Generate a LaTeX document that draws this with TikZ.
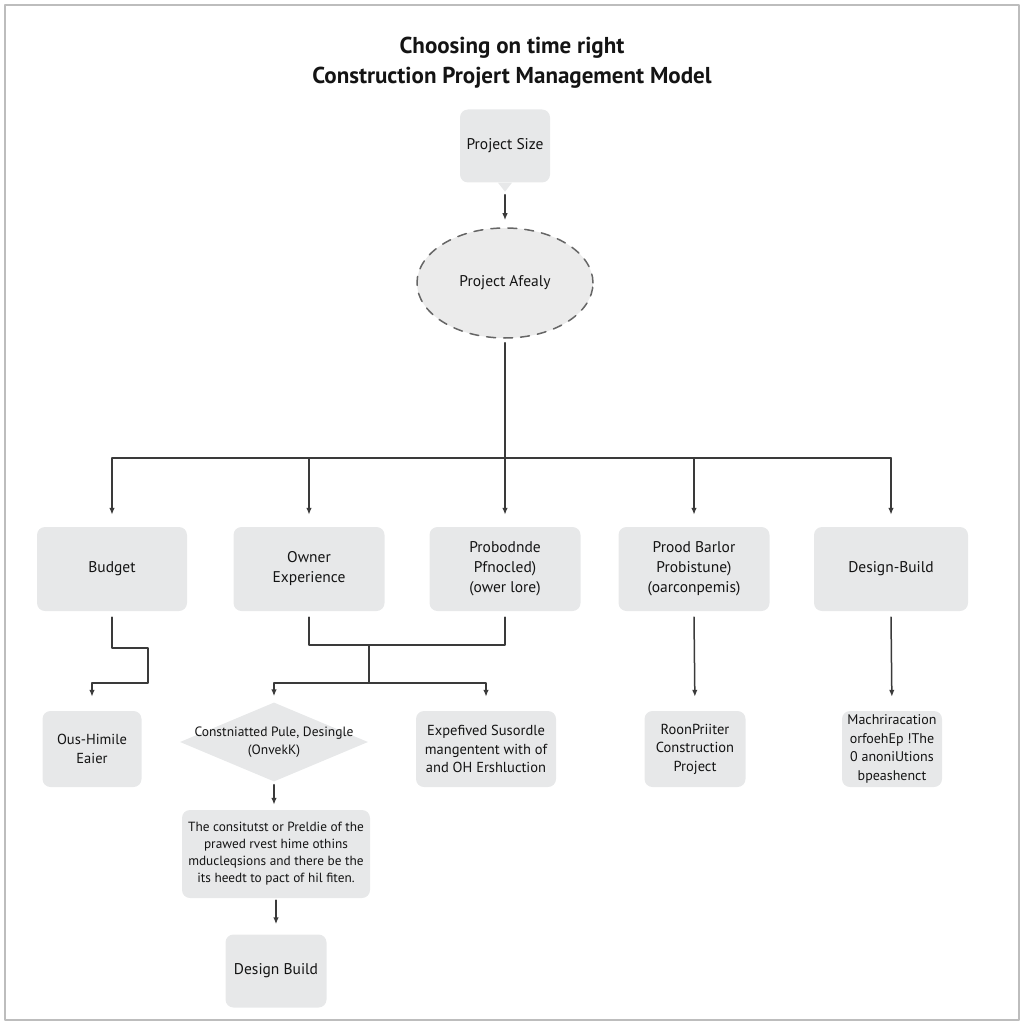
\documentclass[tikz,border=0pt]{standalone}
\usepackage{fontspec}
\setmainfont{PT Sans}
\usetikzlibrary{arrows.meta,shapes.geometric}
\definecolor{BoxGray}{HTML}{E7E8E9}
\definecolor{OvalGray}{HTML}{EBEBEB}
\definecolor{LineGray}{HTML}{3A3A3A}
\definecolor{TextDark}{HTML}{141414}
\definecolor{FrameGray}{HTML}{BDBDBD}

\begin{document}
\begin{tikzpicture}[x=1pt,y=-1pt,line cap=round,line join=round,
  box/.style={rectangle,rounded corners=8pt,fill=BoxGray,align=center,text=TextDark,inner sep=0pt,
    font=\fontsize{15.5}{20}\selectfont},
  small/.style={font=\fontsize{14.5}{18.5}\selectfont},
  tiny/.style={font=\fontsize{13.3}{17}\selectfont},
  ln/.style={draw=LineGray,line width=1.5pt},
  arr/.style={ln,-{Latex[length=7pt,width=5.5pt]}}]
  \useasboundingbox (0,0) rectangle (1024,1024);
  \draw[FrameGray,line width=1.8pt] (5,5) rectangle (1019,1020);
  % title
  \node[text=TextDark,font=\fontsize{23}{26}\bfseries\selectfont] (title1) at (512,48) {Choosing on time right};
  \node[text=TextDark,font=\fontsize{23}{26}\bfseries\selectfont] (title2) at (512,78) {Construction Projert Management Model};
  % top
  \node[box,minimum width=90,minimum height=73] (size) at (505,146) {Project Size};
  \fill[BoxGray] ([xshift=-7pt]size.south) -- ([yshift=-9pt]size.south) -- ([xshift=7pt]size.south) -- cycle;
  \node[ellipse,fill=OvalGray,draw=gray!80!black,line width=1.5pt,dash pattern=on 9pt off 8pt,
    minimum width=176,minimum height=110,text=TextDark,font=\fontsize{15.5}{20}\selectfont] (afealy) at (505,283) {Project Afealy};
  \draw[arr,shorten >=7pt] ([yshift=-12pt]size.south) -- (afealy.north);
  \coordinate (bus) at (505,458);
  % first row
  \node[box,minimum width=150,minimum height=84] (budget) at (112,569) {Budget};
  \node[box,minimum width=151,minimum height=84] (owner) at (309,569) {Owner\\Experience};
  \node[box,minimum width=151,minimum height=84] (probod) at (505,569) {Probodnde\\Pfnocled)\\(ower lore)};
  \node[box,minimum width=151,minimum height=84] (prood) at (694,569) {Prood Barlor\\Probistune)\\(oarconpemis)};
  \node[box,minimum width=154,minimum height=84] (design) at (891,569) {Design-Build};
  \draw[ln,shorten <=4pt] (afealy.south) -- (bus);
  \draw[ln] (budget.north |- bus) -- (design.north |- bus);
  \foreach \n in {budget,owner,probod,prood,design}{\draw[arr,shorten >=12pt] (\n.north |- bus) -- (\n.north);}
  % second row
  \node[box,small,minimum width=99,minimum height=76] (ous) at (92,749) {Ous-Himile\\Eaier};
  \node[diamond,fill=BoxGray,inner sep=0pt,minimum width=188,minimum height=79] (diam) at (274,742) {};
  \node[text=TextDark,align=center,font=\fontsize{13.5}{18.5}\selectfont] (diamtext) at (diam) {Constniatted Pule, Desingle\\(OnvekK)};
  \node[box,small,minimum width=140,minimum height=76] (expef) at (486,749) {Expefived Susordle\\mangentent with of\\and OH Ershluction};
  \node[box,small,minimum width=101,minimum height=76] (roon) at (695,749) {RoonPriiter\\Construction\\Project};
  \node[box,font=\fontsize{14}{18.5}\selectfont,minimum width=100,minimum height=76] (mach) at (892,749) {Machriracation\\orfoehEp !The\\0 anoniUtions\\bpeashenct};
  \coordinate (merge) at (369,645);\coordinate (split) at (369,683);
  \draw[arr] ([yshift=-6pt]budget.south) -- ++(0,31) -- ++(36,0) -- ++(0,35) -| ([yshift=14pt]ous.north);
  \draw[ln] ([yshift=-6pt]owner.south) |- (merge) -| ([yshift=-6pt]probod.south);
  \draw[ln] (merge) -- (split);
  \draw[arr] (split) -| ([yshift=6pt]diam.north);
  \draw[arr] (split) -| ([yshift=14pt]expef.north);
  \draw[arr,shorten >=14pt] ([yshift=-6pt]prood.south) -- (roon.north);
  \draw[arr,shorten >=14pt] ([yshift=-6pt]design.south) -- (mach.north);
  % lower branch
  \node[box,tiny,minimum width=188,minimum height=88] (consti) at (276,854) {The consitutst or Preldie of the\\prawed rvest hime othins\\mducleqsions and there be the\\its heedt to pact of hil fiten.};
  \node[box,minimum width=101,minimum height=73] (dbuild) at (276,971) {Design Build};
  \draw[arr,shorten >=5pt] ([yshift=-3pt]diam.south) -- (diam.south |- consti.north);
  \draw[arr,shorten >=10pt] ([yshift=-2pt]consti.south) -- (dbuild.north);
\end{tikzpicture}
\end{document}
